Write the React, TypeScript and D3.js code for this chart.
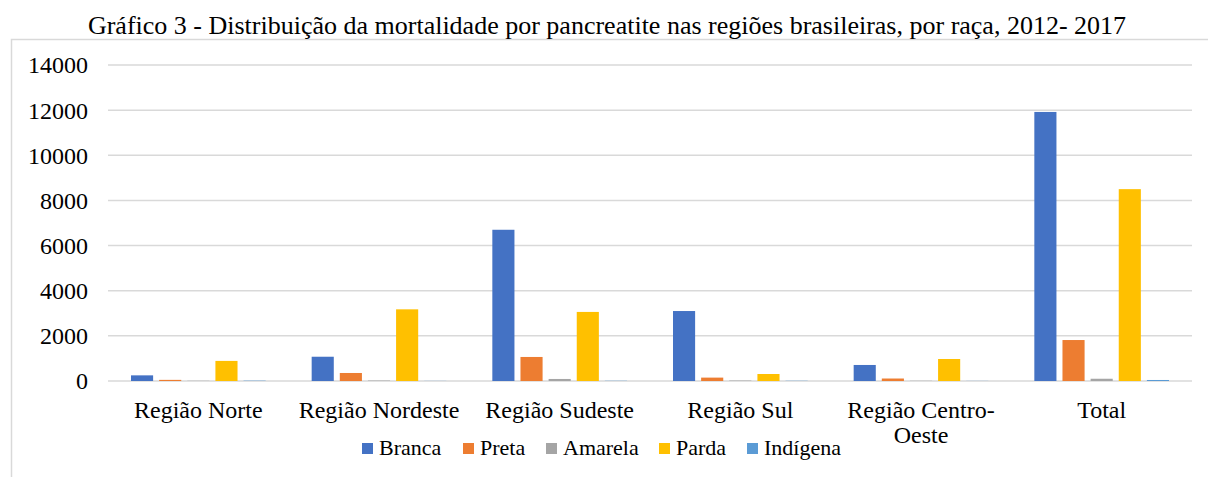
import React, { useEffect, useRef } from "react";
import * as d3 from "d3";

const categories = [
  "Região Norte",
  "Região Nordeste",
  "Região Sudeste",
  "Região Sul",
  "Região Centro-Oeste",
  "Total",
];
const series = ["Branca", "Preta", "Amarela", "Parda", "Indígena"];
const colors = ["#4472C4", "#ED7D31", "#A5A5A5", "#FFC000", "#5B9BD5"];

const branca = [250, 1075, 6700, 3100, 710, 11920];
const preta = [50, 355, 1065, 150, 110, 1815];
const amarela = [10, 20, 90, 20, 10, 100];
const parda = [890, 3175, 3060, 310, 975, 8500];
const indigena = [15, 5, 10, 10, 5, 45];

const yTicks = [0, 2000, 4000, 6000, 8000, 10000, 12000, 14000];
const title =
  "Gráfico 3 - Distribuição da mortalidade por pancreatite nas regiões brasileiras, por raça, 2012- 2017";

const FONT = "Liberation Serif, Times New Roman, serif";

const App = () => {
  const ref = useRef(null);

  useEffect(() => {
    const width = 1208;
    const height = 477;
    const values = [branca, preta, amarela, parda, indigena];

    document.body.style.margin = "0";
    d3.select(ref.current).selectAll("*").remove();

    const svg = d3
      .select(ref.current)
      .append("svg")
      .attr("width", width)
      .attr("height", height)
      .attr("font-family", FONT)
      .style("display", "block");

    svg.append("rect").attr("width", width).attr("height", height).attr("fill", "#fff");

    // bingkai chart (kiri & atas)
    svg
      .append("path")
      .attr("d", `M11.5,${height} V39.5 H${width}`)
      .attr("fill", "none")
      .attr("stroke", "#d9d9d9")
      .attr("stroke-width", 1.5);

    svg
      .append("text")
      .attr("x", 607)
      .attr("y", 34)
      .attr("text-anchor", "middle")
      .attr("font-family", FONT)
      .attr("font-size", "26px")
      .attr("fill", "#000")
      .text(title);

    const x0 = d3.scaleBand().domain(categories).range([108, 1192]);
    const x1 = d3
      .scaleBand()
      .domain(series)
      .range([23, x0.bandwidth() - 23])
      .paddingInner(0.214);
    const y = d3.scaleLinear().domain([0, 14000]).range([381, 65]);

    // gridlines
    svg
      .append("g")
      .selectAll("line")
      .data(yTicks)
      .join("line")
      .attr("x1", 108)
      .attr("x2", 1192)
      .attr("y1", (d) => y(d))
      .attr("y2", (d) => y(d))
      .attr("stroke", "#d9d9d9")
      .attr("stroke-width", 1.5);

    svg
      .append("g")
      .selectAll("text")
      .data(yTicks)
      .join("text")
      .attr("x", 88)
      .attr("y", (d) => y(d))
      .attr("dy", "0.35em")
      .attr("text-anchor", "end")
      .attr("font-family", FONT)
      .attr("font-size", "24px")
      .attr("fill", "#000")
      .text((d) => d);

    // bars
    series.forEach((s, si) => {
      svg
        .append("g")
        .selectAll("rect")
        .data(values[si])
        .join("rect")
        .attr("x", (d, i) => x0(categories[i]) + x1(s))
        .attr("width", x1.bandwidth())
        .attr("y", (d) => y(d))
        .attr("height", (d) => y(0) - y(d))
        .attr("fill", colors[si]);
    });

    // label kategori (Centro-Oeste dipecah jadi 2 baris)
    const labelLines = (c) =>
      c === "Região Centro-Oeste" ? ["Região Centro-", "Oeste"] : [c];
    svg
      .append("g")
      .selectAll("text")
      .data(categories)
      .join("text")
      .attr("x", (d) => x0(d) + x0.bandwidth() / 2)
      .attr("y", 418)
      .attr("text-anchor", "middle")
      .attr("font-family", FONT)
      .attr("font-size", "24px")
      .attr("fill", "#000")
      .each(function (d) {
        const t = d3.select(this);
        labelLines(d).forEach((line, i) => {
          t.append("tspan")
            .attr("x", x0(d) + x0.bandwidth() / 2)
            .attr("dy", i === 0 ? 0 : 25)
            .text(line);
        });
      });

    // legend
    const legendX = [362, 463, 546, 659, 747];
    const legend = svg
      .append("g")
      .selectAll("g")
      .data(series)
      .join("g")
      .attr("transform", (d, i) => `translate(${legendX[i]},0)`);
    legend
      .append("rect")
      .attr("y", 443)
      .attr("width", 11)
      .attr("height", 11)
      .attr("fill", (d, i) => colors[i]);
    legend
      .append("text")
      .attr("x", 17)
      .attr("y", 455)
      .attr("font-family", FONT)
      .attr("font-size", "22px")
      .attr("fill", "#000")
      .text((d) => d);
  }, []);

  return <div ref={ref} />;
};

export default App;
